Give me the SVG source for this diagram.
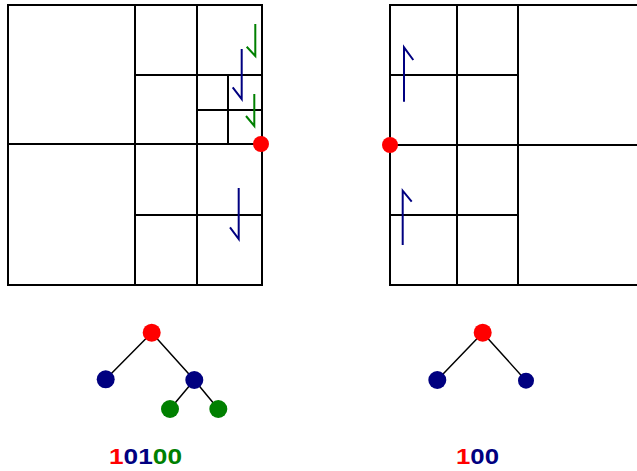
<svg xmlns="http://www.w3.org/2000/svg" width="637" height="471" viewBox="0 0 637 471">
<style>
.g{stroke:#000;stroke-width:2;fill:none;stroke-linecap:square}
.bl{stroke:#000080;stroke-width:2;fill:none}
.gr{stroke:#008000;stroke-width:2;fill:none}
.e{stroke:#000;stroke-width:1.5}
.r{fill:#ff0000}.b{fill:#000080}.n{fill:#008000}
.t{font-family:"Liberation Sans",Arial,sans-serif;font-weight:bold;font-size:22px}
</style>
<rect width="637" height="471" fill="#fff"/>
<g id="left-grid">
<rect class="g" x="8" y="5" width="254" height="280"/>
<path class="g" d="M135 5V285M197 5V285M8 144H262M135 75H262M197 110H262M228 75V144M135 215H262"/>
</g>
<g id="left-marks">
<path class="gr" d="M255.3 24V56L246.7 46.7"/>
<path class="bl" d="M241.7 49V99L232.7 87.3"/>
<path class="gr" d="M254.3 94V126L246 116"/>
<path class="bl" d="M238.7 188V239L230 227.3"/>
</g>
<g id="right-grid">
<path class="g" d="M637 5H390V285H637M457 5V285M518 5V285M390 145H637M390 75H518M390 215H518"/>
</g>
<g id="right-marks">
<path class="bl" d="M404 101.7V47.3L413.3 60"/>
<path class="bl" d="M402.7 245V190.7L411.7 201.7"/>
</g>
<g id="red-dot-left"><circle class="r" cx="261" cy="144" r="8"/></g>
<g id="red-dot-right"><circle class="r" cx="390" cy="145" r="8"/></g>
<g id="connectors">
<path class="e" d="M151.7 332.7L105.7 379.3M151.7 332.7L194.3 380M194.3 380L170 409M194.3 380L218.3 409"/>
<path class="e" d="M482.7 332.7L437.3 380M482.7 332.7L526 380.7"/>
</g>
<g id="tree1-root"><circle class="r" cx="151.7" cy="332.7" r="9"/></g>
<g id="tree1-l"><circle class="b" cx="105.7" cy="379.3" r="9"/></g>
<g id="tree1-r"><circle class="b" cx="194.3" cy="380" r="9"/></g>
<g id="tree1-rl"><circle class="n" cx="170" cy="409" r="9"/></g>
<g id="tree1-rr"><circle class="n" cx="218.3" cy="409" r="9"/></g>
<g id="tree2-root"><circle class="r" cx="482.7" cy="332.7" r="9"/></g>
<g id="tree2-l"><circle class="b" cx="437.3" cy="380" r="9"/></g>
<g id="tree2-r"><circle class="b" cx="526" cy="380.7" r="8"/></g>
<text class="t" x="109" y="464" textLength="73" lengthAdjust="spacingAndGlyphs"><tspan class="r">1</tspan><tspan class="b">01</tspan><tspan class="n">00</tspan></text>
<text class="t" x="456" y="464" textLength="43" lengthAdjust="spacingAndGlyphs"><tspan class="r">1</tspan><tspan class="b">00</tspan></text>
</svg>
